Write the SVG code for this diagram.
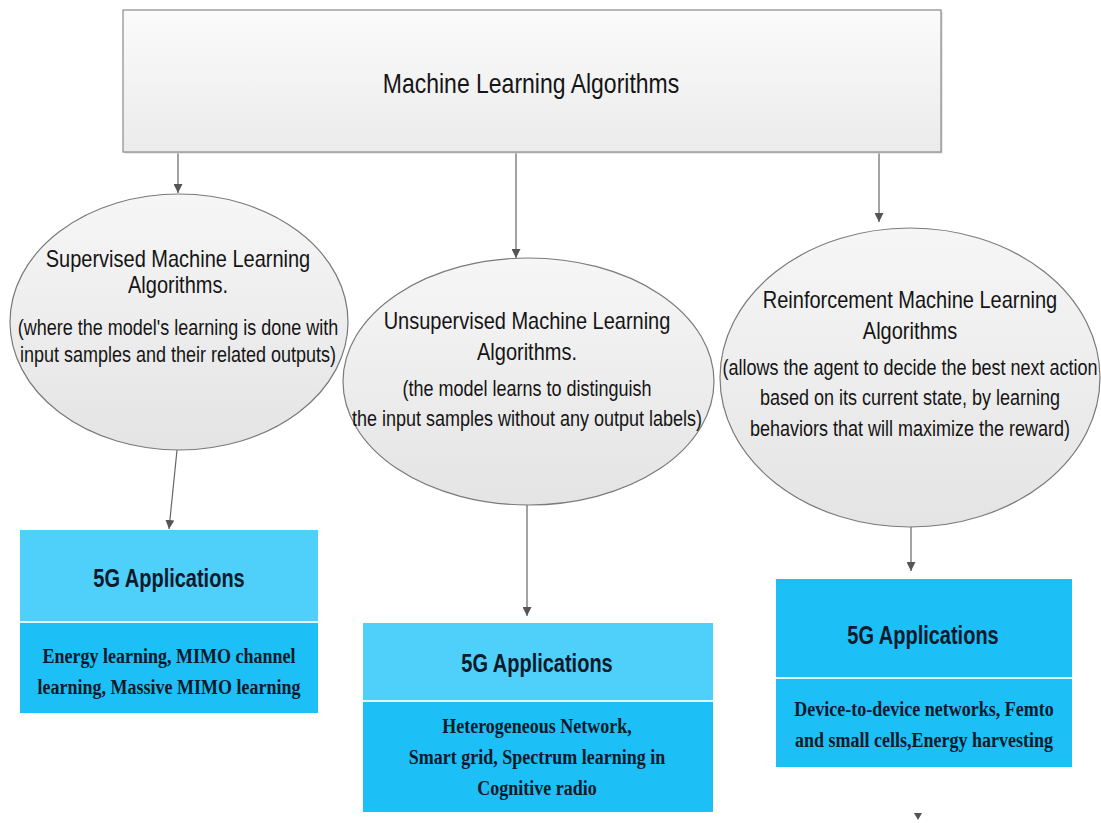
<svg xmlns="http://www.w3.org/2000/svg" width="1101" height="823" viewBox="0 0 1101 823">
<style>
.t{font-family:"Liberation Sans",Arial,sans-serif;fill:#151515;text-anchor:middle}
.h{font-size:20px}
.d{font-size:18px}
.bt{font-family:"Liberation Sans",Arial,sans-serif;font-weight:bold;font-size:20px;fill:#0b1a2b;text-anchor:middle}
.bs{font-family:"Liberation Serif","Times New Roman",serif;font-weight:bold;font-size:18px;fill:#0b1a2b;text-anchor:middle}
.ell{fill:url(#eg);stroke:#7a7a7a;stroke-width:1.2}
.conn{stroke:#666;stroke-width:1.2;fill:none;marker-end:url(#arr)}
.top{fill:#4fd0fa}
.bot{fill:#1cc0f6}
.div{stroke:#dff6fe;stroke-width:2}
</style>
<defs>
<linearGradient id="bg" x1="0" y1="0" x2="0" y2="1">
<stop offset="0" stop-color="#fbfbfb"/><stop offset="1" stop-color="#ebebeb"/>
</linearGradient>
<linearGradient id="eg" x1="0" y1="0" x2="0" y2="1">
<stop offset="0" stop-color="#f6f6f6"/><stop offset="1" stop-color="#e4e4e4"/>
</linearGradient>
<marker id="arr" viewBox="0 0 10 10" refX="10" refY="5" markerWidth="9" markerHeight="9" markerUnits="userSpaceOnUse" orient="auto">
<path d="M0,0 L10,5 L0,10 z" fill="#555"/>
</marker>
</defs>
<rect width="1101" height="823" fill="#ffffff"/>

<g id="connectors">
<line class="conn" x1="178" y1="152" x2="178" y2="193"/>
<line class="conn" x1="516" y1="152" x2="516" y2="258"/>
<line class="conn" x1="879" y1="152" x2="879" y2="222"/>
<line class="conn" x1="177" y1="450" x2="169" y2="529"/>
<line class="conn" x1="527" y1="505" x2="527" y2="616"/>
<line class="conn" x1="911" y1="527" x2="911" y2="571"/>
<polygon points="914,813 922,813 918,820" fill="#555"/>
</g>

<g id="root">
<rect x="124.5" y="11.5" width="818" height="142" fill="#d4d4d4"/>
<rect x="123" y="10" width="818" height="142" fill="url(#bg)" stroke="#8a8a8a" stroke-width="1.2"/>
<text class="t" font-size="23" transform="translate(531,93) scale(1,1.2)">Machine Learning Algorithms</text>
</g>

<g id="supervised">
<ellipse class="ell" cx="179" cy="322" rx="169" ry="128"/>
<text class="t h" transform="translate(178,266.6) scale(1,1.2)">Supervised Machine Learning</text>
<text class="t h" transform="translate(178,292.6) scale(1,1.2)">Algorithms.</text>
<text class="t d" transform="translate(178,334.8) scale(1,1.2)">(where the model's learning is done with</text>
<text class="t d" transform="translate(178,361.8) scale(1,1.2)">input samples and their related outputs)</text>
</g>

<g id="unsupervised">
<ellipse class="ell" cx="528.5" cy="381.5" rx="185.5" ry="123.5"/>
<text class="t h" transform="translate(527,328.6) scale(1,1.2)">Unsupervised Machine Learning</text>
<text class="t h" transform="translate(527,359.6) scale(1,1.2)">Algorithms.</text>
<text class="t d" transform="translate(527,395.8) scale(1,1.2)">(the model learns to distinguish</text>
<text class="t d" transform="translate(527,425.8) scale(1,1.2)">the input samples without any output labels)</text>
</g>

<g id="reinforcement">
<ellipse class="ell" cx="910" cy="377.5" rx="190" ry="149.5"/>
<text class="t h" transform="translate(910,307.6) scale(1,1.2)">Reinforcement Machine Learning</text>
<text class="t h" transform="translate(910,338.6) scale(1,1.2)">Algorithms</text>
<text class="t d" transform="translate(910,374.8) scale(1,1.2)">(allows the agent to decide the best next action</text>
<text class="t d" transform="translate(910,404.8) scale(1,1.2)">based on its current state, by learning</text>
<text class="t d" transform="translate(910,435.8) scale(1,1.2)">behaviors that will maximize the reward)</text>
</g>

<g id="app1">
<rect class="top" x="20" y="530" width="298" height="92"/>
<rect class="bot" x="20" y="622" width="298" height="91"/>
<line class="div" x1="20" y1="622" x2="318" y2="622"/>
<text class="bt" transform="translate(169,587) scale(1,1.25)">5G Applications</text>
<text class="bs" transform="translate(169,663) scale(1,1.2)">Energy learning, MIMO channel</text>
<text class="bs" transform="translate(169,694) scale(1,1.2)">learning, Massive MIMO learning</text>
</g>

<g id="app2">
<rect class="top" x="363" y="623" width="350" height="78"/>
<rect class="bot" x="363" y="701" width="350" height="111"/>
<line class="div" x1="363" y1="701" x2="713" y2="701"/>
<text class="bt" transform="translate(537,672) scale(1,1.25)">5G Applications</text>
<text class="bs" transform="translate(537,733) scale(1,1.2)">Heterogeneous Network,</text>
<text class="bs" transform="translate(537,764) scale(1,1.2)">Smart grid, Spectrum learning in</text>
<text class="bs" transform="translate(537,795) scale(1,1.2)">Cognitive radio</text>
</g>

<g id="app3">
<rect class="bot" x="776" y="579" width="296" height="99"/>
<rect class="bot" x="776" y="678" width="296" height="89"/>
<line class="div" x1="776" y1="678" x2="1072" y2="678"/>
<text class="bt" transform="translate(923,644) scale(1,1.25)">5G Applications</text>
<text class="bs" transform="translate(924,716) scale(1,1.2)">Device-to-device networks, Femto</text>
<text class="bs" transform="translate(924,747) scale(1,1.2)">and small cells,Energy harvesting</text>
</g>
</svg>
